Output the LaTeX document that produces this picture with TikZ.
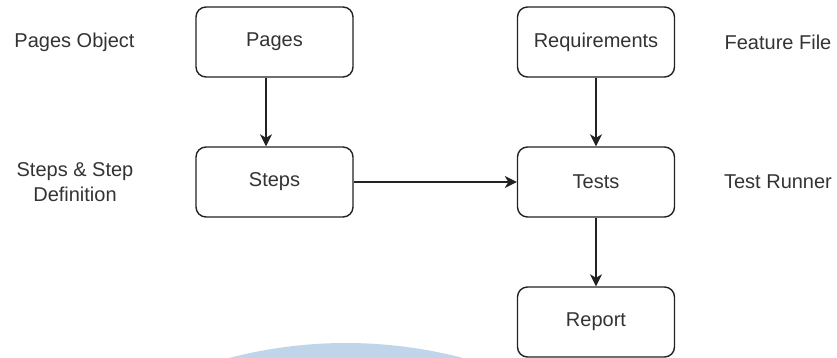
\documentclass[tikz,border=0pt]{standalone}
\usepackage{fontspec}
\setmainfont{Liberation Sans}
\usetikzlibrary{arrows.meta}
\definecolor{txt}{HTML}{333333}
\definecolor{ln}{HTML}{222222}
\definecolor{wm}{HTML}{C0D5EA}
\begin{document}
\begin{tikzpicture}[x=1pt,y=-1pt,
  box/.style={draw=ln,line width=1.4pt,rounded corners=10pt,minimum width=157pt,minimum height=70pt,inner sep=0pt,text=txt,font=\fontsize{20}{24}\selectfont},
  lbl/.style={text=txt,font=\fontsize{20}{25}\selectfont,align=center,inner sep=0pt},
  arr/.style={draw=ln,line width=1.4pt,-{Stealth[length=12pt,width=12pt,inset=3.5pt]}}]
\useasboundingbox (0,0) rectangle (837,358);
\begin{scope}
\clip (0,0) rectangle (837,358);
\fill[wm] (346,803) circle[radius=460];
\end{scope}
\node[box] (pages) at (274.5,42) {Pages};
\node[box] (req) at (596,42) {Requirements};
\node[box] (steps) at (274.5,182) {Steps};
\node[box] (tests) at (596,182) {Tests};
\node[box] (report) at (596,322) {Report};
\node[lbl] (lpo) at (74.5,42) {Pages Object};
\node[lbl] (lsd) at (75,182) {Steps \& Step\\Definition};
\node[lbl] (lff) at (778,42) {Feature File};
\node[lbl] (ltr) at (778,182) {Test Runner};
\draw[arr] ([xshift=-8.5pt]pages.south) -- ([xshift=-8.5pt]steps.north);
\draw[arr] (req.south) -- (tests.north);
\draw[arr] (steps.east) -- (tests.west);
\draw[arr] (tests.south) -- (report.north);
\end{tikzpicture}
\end{document}
